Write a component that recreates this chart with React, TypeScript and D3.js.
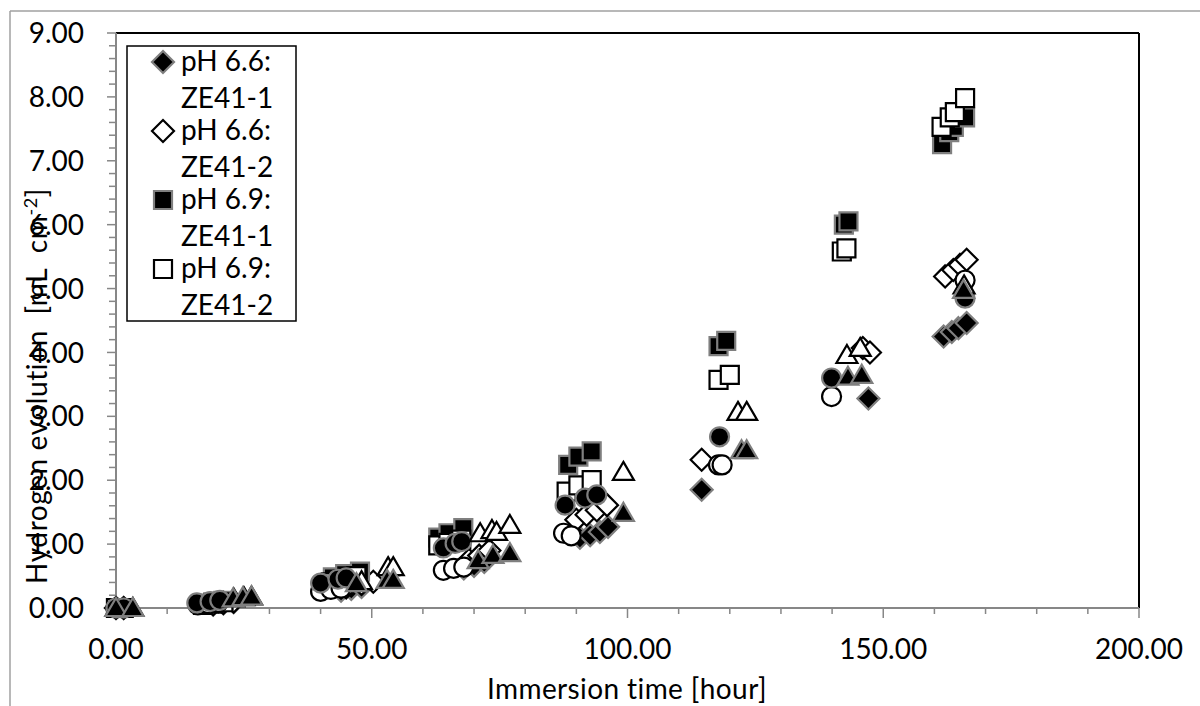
import React from "react";
import * as d3 from "d3";

type Pt = [number, number];

// Immersion time [hour], hydrogen evolution [mL cm-2]
const diamondFilled: Pt[] = [
  [0, 0], [1.5, 0], [19, 0.05], [21, 0.07], [23, 0.09], [44, 0.27], [46, 0.3], [48, 0.33],
  [68, 0.62], [70, 0.66], [72, 0.72], [90.7, 1.1], [92.7, 1.14], [94.6, 1.19], [96.2, 1.27],
  [114.5, 1.85], [147.1, 3.28], [161.8, 4.25], [163.4, 4.32], [164.7, 4.38], [166.3, 4.46],
];
const diamondOpen: Pt[] = [
  [0, 0], [1.5, 0], [19, 0.06], [21, 0.08], [23, 0.1], [45, 0.32], [48, 0.38], [50.3, 0.41],
  [69, 0.75], [71, 0.82], [73, 0.9], [90, 1.38], [92, 1.46], [94, 1.53], [96, 1.61],
  [114.5, 2.32], [146, 4.07], [147.4, 4.0], [162.1, 5.19], [163.7, 5.29], [165, 5.37], [166.3, 5.45],
];
const squareFilled: Pt[] = [
  [0, 0], [1.5, 0], [17, 0.07], [19, 0.09], [21, 0.11], [42.4, 0.48], [44.8, 0.53], [47.7, 0.57],
  [63, 1.1], [65, 1.17], [67.9, 1.25], [88.4, 2.24], [90.4, 2.37], [93, 2.45],
  [117.8, 4.1], [119.3, 4.18], [142.3, 6.0], [143.2, 6.05],
  [161.5, 7.26], [162.9, 7.45], [163.8, 7.53], [166, 7.68],
];
const squareOpen: Pt[] = [
  [0, 0], [1.5, 0], [17, 0.05], [19, 0.07], [21, 0.09], [42, 0.4], [44.5, 0.45], [47, 0.5],
  [63, 0.98], [65, 1.02], [67.5, 1.07], [88.1, 1.82], [90.4, 1.92], [93, 2.0],
  [117.8, 3.57], [120, 3.65], [141.9, 5.58], [142.8, 5.63],
  [161.4, 7.53], [163, 7.68], [164, 7.76], [166, 7.98],
];
const circleFilled: Pt[] = [
  [0, 0], [1.5, 0], [15.8, 0.08], [18.4, 0.1], [20.3, 0.12], [40, 0.39], [43.4, 0.45], [45, 0.47],
  [64, 0.94], [66.3, 1.01], [67.6, 1.04], [87.8, 1.61], [91.7, 1.72], [94, 1.77],
  [118, 2.68], [139.9, 3.6], [166, 4.85],
];
const circleOpen: Pt[] = [
  [0, 0], [1.5, 0], [16, 0.05], [18, 0.07], [20, 0.09], [40, 0.26], [42, 0.29], [44, 0.31],
  [64, 0.59], [66, 0.62], [68, 0.64], [87.5, 1.17], [89, 1.13],
  [117.8, 2.24], [118.5, 2.24], [139.9, 3.31], [166, 5.13],
];
const triangleFilled: Pt[] = [
  [0, 0], [3.3, 0], [22.9, 0.15], [24.8, 0.17], [26.5, 0.18], [47, 0.39], [53, 0.44], [54.2, 0.44],
  [70.8, 0.75], [73.7, 0.83], [77, 0.86], [99.2, 1.49], [122.3, 2.47], [123.3, 2.47],
  [143.1, 3.62], [145.8, 3.65], [165.7, 4.98],
];
const triangleOpen: Pt[] = [
  [0, 0], [3.3, 0], [23, 0.15], [25, 0.17], [26.5, 0.18], [48, 0.42], [53.2, 0.64], [54.2, 0.64],
  [71.2, 1.17], [73.5, 1.22], [74.4, 1.19], [77, 1.3], [99.2, 2.13],
  [121.6, 3.07], [123.3, 3.07], [142.9, 3.96], [145.5, 4.07], [165.8, 5.05],
];

type Shape = "diamond" | "square" | "circle" | "triangle";
// legend order (first four shown in the legend)
const seriesShapes: Shape[] = ["diamond", "diamond", "square", "square", "circle", "circle", "triangle", "triangle"];
const seriesFilled: boolean[] = [true, false, true, false, true, false, true, false];
const seriesData: Pt[][] = [
  diamondFilled, diamondOpen, squareFilled, squareOpen,
  circleFilled, circleOpen, triangleFilled, triangleOpen,
];
// drawing order (later drawn on top)
const drawOrder: number[] = [0, 1, 2, 3, 5, 4, 7, 6];
const legendLine1: string[] = ["pH 6.6:", "pH 6.6:", "pH 6.9:", "pH 6.9:"];
const legendLine2: string[] = ["ZE41-1", "ZE41-2", "ZE41-1", "ZE41-2"];

const xTicks = d3.range(0, 201, 10);
const yTicks = d3.range(0, 46).map((i) => +(i * 0.2).toFixed(1));

const W = 1200;
const H = 706;
const left = 116;
const right = 1139;
const top = 33;
const bottom = 608;

const FONT = "Lato, 'Open Sans', sans-serif";

function shapePath(shape: Shape): string {
  const p = d3.path();
  if (shape === "square") {
    const h = 9;
    p.rect(-h, -h, 2 * h, 2 * h);
  } else if (shape === "diamond") {
    const h = 11;
    p.moveTo(0, -h);
    p.lineTo(h, 0);
    p.lineTo(0, h);
    p.lineTo(-h, 0);
    p.closePath();
  } else if (shape === "circle") {
    p.arc(0, 0, 9.5, 0, Math.PI * 2);
    p.closePath();
  } else {
    p.moveTo(0, -10);
    p.lineTo(10.5, 8);
    p.lineTo(-10.5, 8);
    p.closePath();
  }
  return p.toString();
}

function Marker({ shape, filled, x, y }: { shape: Shape; filled: boolean; x: number; y: number }) {
  return (
    <path
      d={shapePath(shape)}
      transform={`translate(${x},${y})`}
      fill={filled ? "#000" : "#fff"}
      stroke={filled ? "#7f7f7f" : "#000"}
      strokeWidth={2.2}
    />
  );
}

export default function App() {
  const x = d3.scaleLinear().domain([0, 200]).range([left, right]);
  const y = d3.scaleLinear().domain([0, 9]).range([bottom, top]);
  const fmt = d3.format(".2f");
  const axisGray = "#878787";

  return (
    <svg
      width={W}
      height={H}
      style={{ position: "absolute", left: 0, top: 0, background: "#fff" }}
      fontFamily={FONT}
    >
      <rect x={0} y={0} width={W} height={H} fill="#fff" />
      {/* chart area frame */}
      <line x1={10} y1={11} x2={W} y2={11} stroke="#a0a0a0" strokeWidth={1.5} />
      <line x1={10} y1={11} x2={10} y2={H} stroke="#a0a0a0" strokeWidth={1.5} />

      {/* plot area border (top/right) */}
      <line x1={x(0)} y1={y(9)} x2={x(200)} y2={y(9)} stroke="#000" strokeWidth={2} />
      <line x1={x(200)} y1={y(9)} x2={x(200)} y2={y(0)} stroke="#000" strokeWidth={2} />

      {/* y axis */}
      {yTicks.map((t) => {
        const major = Math.abs(t - Math.round(t)) < 1e-6;
        return (
          <line
            key={"yt" + t}
            x1={x(0) - (major ? 9 : 7)}
            x2={x(0)}
            y1={y(t)}
            y2={y(t)}
            stroke={axisGray}
            strokeWidth={1.5}
          />
        );
      })}
      {yTicks
        .filter((t) => Math.abs(t - Math.round(t)) < 1e-6)
        .map((t) => (
          <text
            key={"yl" + t}
            x={84}
            y={y(t)}
            dy="0.36em"
            textAnchor="end"
            fontSize={28}
            fill="#000"
          >
            {fmt(t)}
          </text>
        ))}

      {/* x axis */}
      {xTicks.map((t) => {
        const major = t % 50 === 0;
        return (
          <line
            key={"xt" + t}
            x1={x(t)}
            x2={x(t)}
            y1={y(0)}
            y2={y(0) + (major ? 10 : 6)}
            stroke={axisGray}
            strokeWidth={1.5}
          />
        );
      })}
      {xTicks
        .filter((t) => t % 50 === 0)
        .map((t) => (
          <text key={"xl" + t} x={x(t)} y={659} textAnchor="middle" fontSize={28} fill="#000">
            {fmt(t)}
          </text>
        ))}
      <line x1={x(0)} y1={y(9)} x2={x(0)} y2={y(0)} stroke={axisGray} strokeWidth={2} />
      <line x1={x(0)} y1={y(0)} x2={x(200)} y2={y(0)} stroke={axisGray} strokeWidth={2} />

      {/* axis titles */}
      <text x={627} y={699} textAnchor="middle" fontSize={28} fill="#000" letterSpacing={0.4}>
        Immersion time [hour]
      </text>
      <text
        transform={`translate(47,${386}) rotate(-90)`}
        textAnchor="middle"
        fontSize={28}
        fill="#000"
        letterSpacing={0.6}
        style={{ whiteSpace: "pre" }}
      >
        {"Hydrogen evolution  [mL  cm"}
        <tspan dy={-10} fontSize={18}>
          -2
        </tspan>
        <tspan dy={10}>]</tspan>
      </text>

      {/* data */}
      {drawOrder.map((si) => (
        <g key={"s" + si}>
          {seriesData[si].map((d, i) => (
            <Marker
              key={i}
              shape={seriesShapes[si]}
              filled={seriesFilled[si]}
              x={x(d[0])}
              y={y(d[1])}
            />
          ))}
        </g>
      ))}

      {/* legend */}
      <rect x={127} y={46} width={169} height={275} fill="#fff" stroke="#000" strokeWidth={1.5} />
      {legendLine1.map((l, i) => {
        const base = 71 + i * 69;
        return (
          <g key={"lg" + i}>
            <Marker shape={seriesShapes[i]} filled={seriesFilled[i]} x={163} y={base - 9} />
            <text x={181} y={base} fontSize={28} fill="#000">
              {l}
            </text>
            <text x={181} y={base + 37} fontSize={28} fill="#000">
              {legendLine2[i]}
            </text>
          </g>
        );
      })}
    </svg>
  );
}
